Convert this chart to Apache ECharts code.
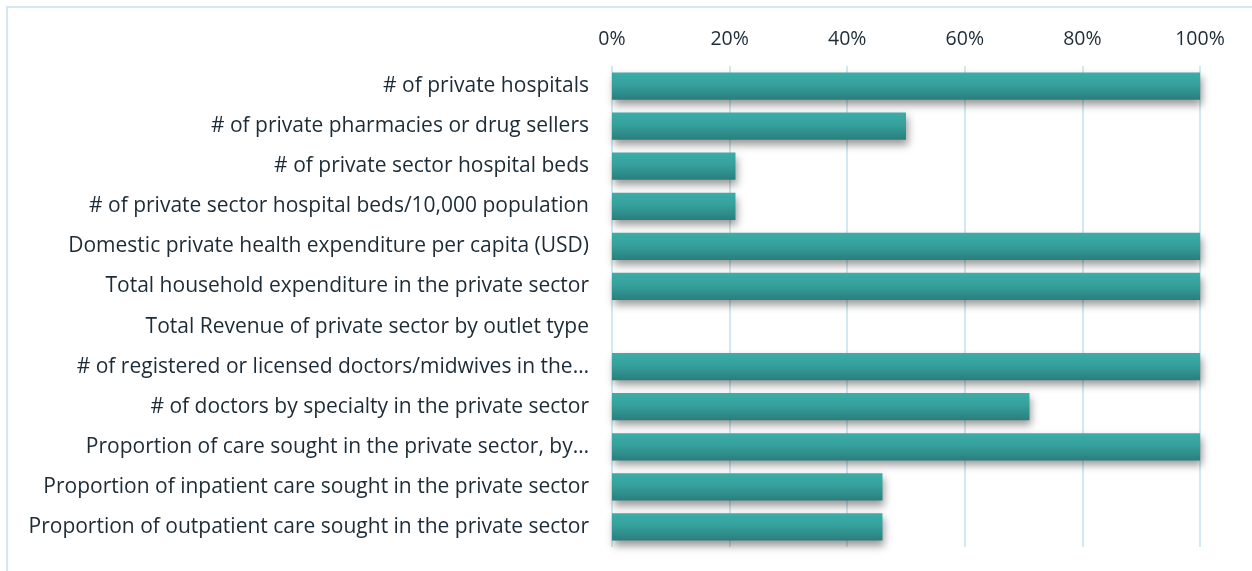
<!DOCTYPE html>
<html>
<head>
<meta charset="utf-8">
<script src="https://cdn.jsdelivr.net/npm/echarts@6/dist/echarts.min.js"></script>
<style>
  html, body { margin: 0; padding: 0; background: #ffffff; }
  #chart { width: 1252px; height: 571px; }
</style>
</head>
<body>
<div id="chart"></div>
<script>
// Indicator availability in the private sector (% of data found)
const categories = [
  '# of private hospitals',
  '# of private pharmacies or drug sellers',
  '# of private sector hospital beds',
  '# of private sector hospital beds/10,000 population',
  'Domestic private health expenditure per capita (USD)',
  'Total household expenditure in the private sector',
  'Total Revenue of private sector by outlet type',
  '# of registered or licensed doctors/midwives in the…',
  '# of doctors by specialty in the private sector',
  'Proportion of care sought in the private sector, by…',
  'Proportion of inpatient care sought in the private sector',
  'Proportion of outpatient care sought in the private sector'
];
const values = [100, 50, 21, 21, 100, 100, 0, 100, 71, 100, 46, 46];
const tickValues = [0, 20, 40, 60, 80, 100];

const FONT = '"Open Sans", Lato, sans-serif';
const TEXT = '#1c2b36';

const chart = echarts.init(document.getElementById('chart'), null, { renderer: 'canvas' });
chart.setOption({
  animation: false,
  backgroundColor: '#ffffff',
  graphic: [{
    type: 'rect',
    shape: { x: 7, y: 7, width: 1300, height: 600 },
    style: { fill: 'none', stroke: '#d3e8f1', lineWidth: 2 },
    silent: true,
    z: -1
  }],
  grid: { left: 612, right: 52, top: 66, bottom: 24, containLabel: false },
  xAxis: {
    type: 'value',
    position: 'top',
    min: tickValues[0],
    max: tickValues[tickValues.length - 1],
    interval: tickValues[1] - tickValues[0],
    axisLine: { show: false },
    axisTick: { show: false },
    axisLabel: {
      formatter: '{value}%',
      color: TEXT,
      fontFamily: FONT,
      fontSize: 19.5,
      margin: 17
    },
    splitLine: { show: true, lineStyle: { color: '#d3e8f1', width: 2 } }
  },
  yAxis: {
    type: 'category',
    data: categories,
    inverse: true,
    axisLine: { show: false },
    axisTick: { show: false },
    axisLabel: {
      color: TEXT,
      fontFamily: FONT,
      fontSize: 21,
      margin: 23,
      padding: [4, 0, 0, 0]
    }
  },
  series: [{
    type: 'bar',
    data: values,
    barCategoryGap: '32%',
    itemStyle: {
      color: new echarts.graphic.LinearGradient(0, 0, 0, 1, [
        { offset: 0, color: '#3cada8' },
        { offset: 0.45, color: '#35a09c' },
        { offset: 1, color: '#2a7e7c' }
      ]),
      shadowColor: 'rgba(0,0,0,0.4)',
      shadowBlur: 8,
      shadowOffsetX: 2,
      shadowOffsetY: 5
    }
  }]
});
</script>
</body>
</html>
